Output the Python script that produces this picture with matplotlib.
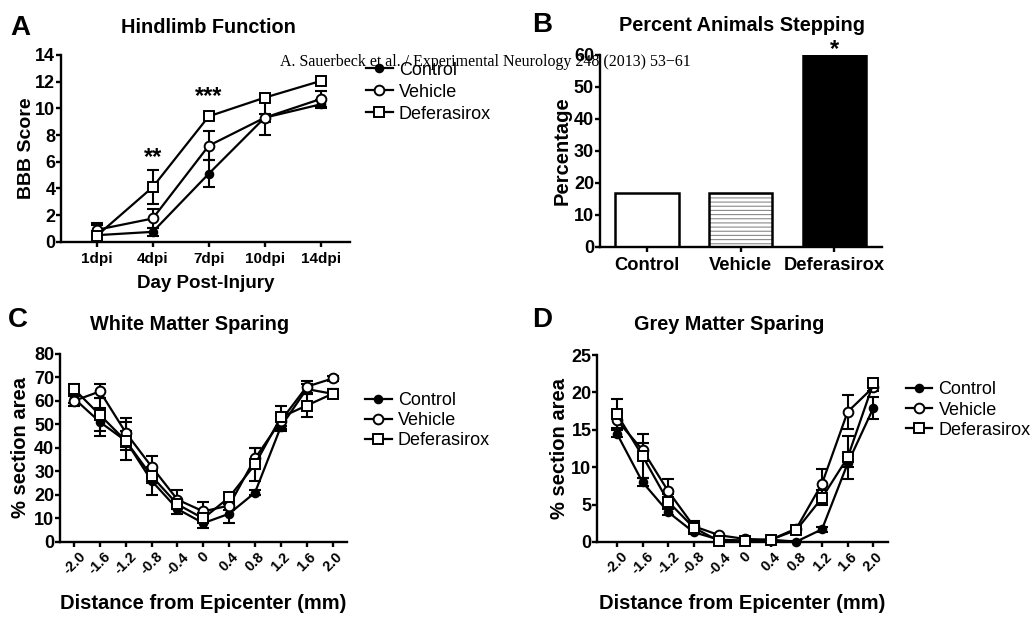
import matplotlib
matplotlib.use("Agg")
import matplotlib.pyplot as plt
import numpy as np

plt.rcParams["font.family"] = ["Liberation Sans", "DejaVu Sans"]
plt.rcParams["hatch.linewidth"] = 0.8

W, H, DPI = 1032, 617, 100

# ---------------- data
groups = ["Control", "Vehicle", "Deferasirox"]

days = ["1dpi", "4dpi", "7dpi", "10dpi", "14dpi"]
bbb_ctrl = [0.5, 0.75, 5.1, 9.3, 10.3]
bbb_veh = [0.9, 1.75, 7.2, 9.3, 10.7]
bbb_def = [0.45, 4.1, 9.4, 10.8, 12.05]
bbb_ctrl_err = [0.9, 0.3, 1.0, 0.3, 0.3]
bbb_veh_err = [0.4, 0.7, 1.1, 1.3, 0.6]
bbb_def_err = [0.3, 1.3, 0.3, 0.3, 0.3]

stepping = [16.7, 16.7, 60.0]

dist = [-2.0, -1.6, -1.2, -0.8, -0.4, 0.0, 0.4, 0.8, 1.2, 1.6, 2.0]
dist_labels = ["-2.0", "-1.6", "-1.2", "-0.8", "-0.4", "0", "0.4", "0.8", "1.2", "1.6", "2.0"]

wm_ctrl = [61, 51, 43, 26, 14, 8, 12, 21, 49, 65, 63]
wm_veh = [60, 64, 46.5, 32, 18, 13, 15.5, 35.5, 51.5, 66, 69.5]
wm_def = [65, 54, 43, 28, 16, 10, 19, 33, 53, 58, 63]
wm_ctrl_err = [2, 6, 4, 6, 2, 2, 4, 1, 2, 2, 2]
wm_veh_err = [2, 3, 6, 4.5, 4, 4, 2, 4.5, 2, 2.5, 1]
wm_def_err = [2, 7, 8, 3, 2, 2, 2, 7, 5, 5, 2]

gm_ctrl = [14.5, 8, 4, 1.3, 0.3, 0.2, 0.3, 0.05, 1.7, 10.5, 17.9]
gm_veh = [16.3, 12.3, 6.8, 2.1, 0.9, 0.4, 0.3, 1.8, 7.8, 17.4, 20.7]
gm_def = [17.1, 11.5, 5.4, 1.9, 0.1, 0.1, 0.3, 1.6, 5.9, 11.3, 21.2]
gm_ctrl_err = [0.5, 0.5, 0.4, 0.3, 0.1, 0.1, 0.1, 0.1, 0.3, 0.5, 1.5]
gm_veh_err = [1.0, 1.0, 1.6, 0.7, 0.2, 0.1, 0.1, 0.3, 2.0, 2.3, 0.5]
gm_def_err = [2.0, 3.0, 1.0, 0.5, 0.1, 0.1, 0.1, 0.3, 1.0, 2.9, 0.5]

LW = 1.6
SPINE = 1.7
styles = [
    dict(marker="o", mfc="black", mec="black", ms=5.5),
    dict(marker="o", mfc="white", mec="black", ms=7),
    dict(marker="s", mfc="white", mec="black", ms=7.5),
]
LEG = dict(loc="upper left", frameon=False, fontsize=13, handlelength=1.45,
           handletextpad=0.35, borderpad=0, borderaxespad=0)


def style_axes(ax, xsize=11):
    for s in ("top", "right"):
        ax.spines[s].set_visible(False)
    for s in ("left", "bottom"):
        ax.spines[s].set_linewidth(SPINE)
    ax.tick_params(direction="out", length=3.5, width=SPINE)
    ax.tick_params(axis="y", labelsize=13, pad=0.5)
    ax.tick_params(axis="x", labelsize=xsize, pad=2)
    for lab in ax.get_xticklabels() + ax.get_yticklabels():
        lab.set_fontweight("bold")


def series(ax, x, ys, errs):
    handles = []
    for y, e, st in zip(ys, errs, styles):
        ax.errorbar(x, y, yerr=e, fmt="none", ecolor="black", elinewidth=1.5,
                    capsize=4.5, capthick=1.5, zorder=2)
        h, = ax.plot(x, y, color="black", lw=LW, mew=1.4, zorder=3, clip_on=False, **st)
        handles.append(h)
    return handles


fig = plt.figure(figsize=(W / DPI, H / DPI), dpi=DPI, facecolor="white")

# ---------------- A
axA = fig.add_axes([0.059, 0.608, 0.280, 0.303])
xa = np.arange(len(days))
hA = series(axA, xa, [bbb_ctrl, bbb_veh, bbb_def], [bbb_ctrl_err, bbb_veh_err, bbb_def_err])
axA.set_xlim(-0.64, 4.52)
axA.set_ylim(0, 14)
axA.set_yticks(range(0, 15, 2))
axA.set_xticks(xa)
axA.set_xticklabels(days)
axA.set_xlabel("Day Post-Injury", fontsize=13.5, fontweight="bold", labelpad=6)
axA.set_ylabel("BBB Score", fontsize=14, fontweight="bold")
axA.yaxis.set_label_coords(-0.088, 0.5)
style_axes(axA)
axA.tick_params(axis="x", pad=4)
axA.text(1, 5.8, "**", ha="center", va="baseline", fontsize=17, fontweight="bold")
axA.text(2, 10.4, "***", ha="center", va="baseline", fontsize=17, fontweight="bold")
fig.legend(hA, groups, bbox_to_anchor=(0.355, 0.900), labelspacing=0.28, **LEG)

# ---------------- B
axB = fig.add_axes([0.581, 0.600, 0.274, 0.311])
xb = np.arange(len(groups))
axB.bar(xb[0], stepping[0], width=0.68, color="white", edgecolor="black", lw=1.8)
axB.bar(xb[1], stepping[1], width=0.68, color="white", edgecolor="#8a8a8a", lw=0, hatch="----")
axB.bar(xb[1], stepping[1], width=0.68, color="none", edgecolor="black", lw=1.8)
axB.bar(xb[2], stepping[2], width=0.68, color="black", edgecolor="black", lw=1.8)
axB.set_xlim(-0.5, 2.51)
axB.set_ylim(0, 60)
axB.set_yticks(range(0, 61, 10))
axB.set_xticks(xb)
axB.set_xticklabels(groups)
axB.set_ylabel("Percentage", fontsize=14.5, fontweight="bold", labelpad=2)
style_axes(axB, xsize=13.2)
axB.tick_params(axis="x", pad=4)
axB.text(2, 59.8, "*", ha="center", va="baseline", fontsize=17, fontweight="bold", clip_on=False)

# ---------------- C
axC = fig.add_axes([0.058, 0.1216, 0.278, 0.305])
hC = series(axC, dist, [wm_ctrl, wm_veh, wm_def], [wm_ctrl_err, wm_veh_err, wm_def_err])
axC.set_xlim(-2.22, 2.22)
axC.set_ylim(0, 80)
axC.set_yticks(range(0, 81, 10))
axC.set_xticks(dist)
axC.set_xticklabels(dist_labels, rotation=45, ha="center", va="top")
axC.set_xlabel("Distance from Epicenter (mm)", fontsize=14.5, fontweight="bold", labelpad=12)
axC.set_ylabel("% section area", fontsize=14.5, fontweight="bold", labelpad=3)
style_axes(axC, xsize=10.5)
fig.legend(hC, groups, bbox_to_anchor=(0.354, 0.364), labelspacing=0.15, **LEG)

# ---------------- D
axD = fig.add_axes([0.5785, 0.1216, 0.282, 0.303])
hD = series(axD, dist, [gm_ctrl, gm_veh, gm_def], [gm_ctrl_err, gm_veh_err, gm_def_err])
axD.set_xlim(-2.31, 2.23)
axD.set_ylim(0, 25)
axD.set_yticks(range(0, 26, 5))
axD.set_xticks(dist)
axD.set_xticklabels(dist_labels, rotation=45, ha="center", va="top")
axD.set_xlabel("Distance from Epicenter (mm)", fontsize=14.5, fontweight="bold", labelpad=12)
axD.set_ylabel("% section area", fontsize=14.5, fontweight="bold", labelpad=2)
style_axes(axD, xsize=10.5)
fig.legend(hD, groups, bbox_to_anchor=(0.878, 0.382), labelspacing=0.18, **LEG)

# ---------------- titles, panel letters, citation
titles = [("A", 0.010, 0.955, 0.955, "Hindlimb Function", 0.202),
          ("B", 0.516, 0.960, 0.958, "Percent Animals Stepping", 0.719),
          ("C", 0.008, 0.482, 0.474, "White Matter Sparing", 0.184),
          ("D", 0.516, 0.482, 0.474, "Grey Matter Sparing", 0.707)]
for letter, lx, ly, ty, title, tx in titles:
    fig.text(lx, ly, letter, fontsize=20, fontweight="bold", va="center", ha="left")
    fig.text(tx, ty, title, fontsize=14.3, fontweight="bold", va="center", ha="center")

fig.text(0.271, 0.899, "A. Sauerbeck et al. / Experimental Neurology 248 (2013) 53\u221261",
         family=["Liberation Serif", "DejaVu Serif"], fontsize=11.5, va="center", ha="left")

fig.savefig("out.png", dpi=DPI, facecolor="white")
